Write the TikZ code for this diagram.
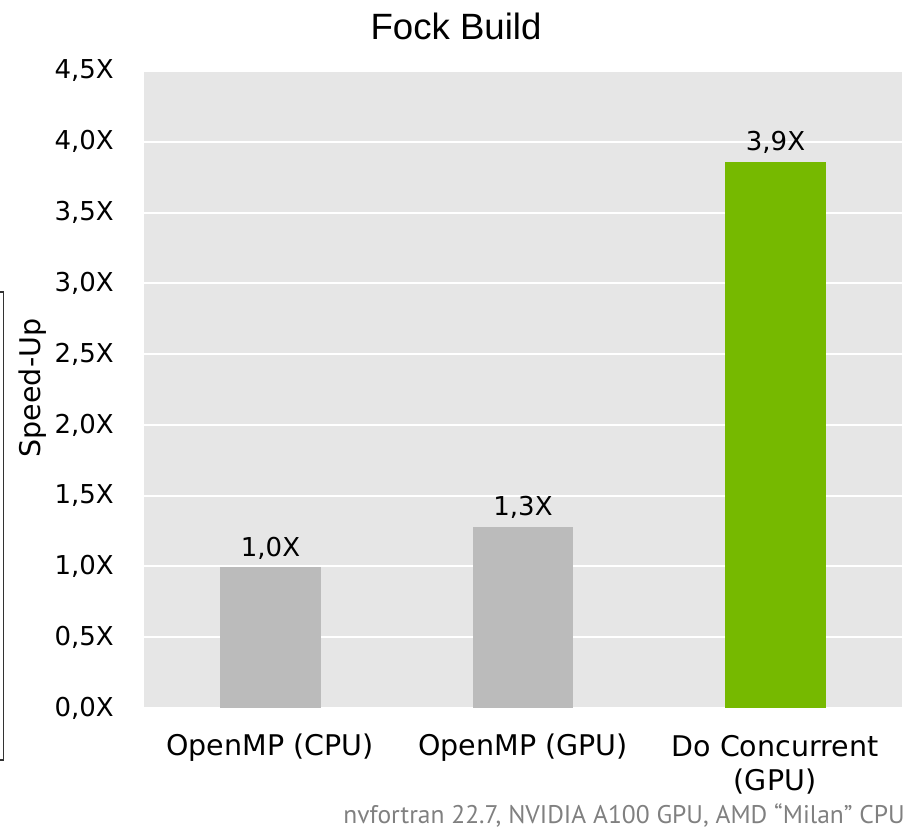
\documentclass[tikz,border=0pt]{standalone}
\usepackage{fontspec}
\setmainfont{DejaVu Sans}
\newfontfamily\titlefont{Liberation Sans}
\newfontfamily\notefont{PT Sans}
\definecolor{plotbg}{HTML}{E6E6E6}
\definecolor{bargrey}{HTML}{BBBBBB}
\definecolor{nvgreen}{HTML}{76B900}
\definecolor{notegrey}{HTML}{808080}
\tikzset{
  tick/.style={anchor=east, inner sep=0pt, font=\fontsize{26}{30}\selectfont},
  vallab/.style={anchor=center, inner sep=0pt, font=\fontsize{26}{30}\selectfont},
  catlab/.style={anchor=center, inner sep=0pt, align=center, font=\fontsize{28.5}{34}\selectfont},
  grid line/.style={draw=white, line width=2pt},
}
\begin{document}
\begin{tikzpicture}[x=1pt, y=-1pt]
\useasboundingbox (0,0) rectangle (910,832);
% plot area
\fill[plotbg] (144,71) rectangle (902,708);
\foreach \k in {0,...,9} {
  \draw[grid line] (144,{708-\k*70.78}) -- (902,{708-\k*70.78});
}
% tick labels
\foreach \k/\t in {0/{0,0X},1/{0,5X},2/{1,0X},3/{1,5X},4/{2,0X},5/{2,5X},6/{3,0X},7/{3,5X},8/{4,0X},9/{4,5X}} {
  \node[tick] (tick\k) at (114,{708-\k*70.78}) {\t};
}
% bars
\fill[bargrey] (220,567) rectangle (321,708);
\fill[bargrey] (473,527) rectangle (573,708);
\fill[nvgreen] (725,162) rectangle (826,708);
% value labels
\node[vallab] (v1) at (270.5,548) {1,0X};
\node[vallab] (v2) at (523,507) {1,3X};
\node[vallab] (v3) at (775.5,142) {3,9X};
% category labels
\node[catlab] (c1) at (270,748) {OpenMP (CPU)};
\node[catlab] (c2) at (523,748) {OpenMP (GPU)};
\node[catlab] (c3) at (775,765) {Do Concurrent\\(GPU)};
% axis title
\node[rotate=90, inner sep=0pt, font=\fontsize{28.5}{32}\selectfont] (ytitle) at (33,388) {Speed-Up};
% chart title
\node[inner sep=0pt, font=\titlefont\fontsize{36.6}{40}\selectfont] (title) at (456,26) {Fock Build};
% footnote
\node[anchor=east, inner sep=0pt, text=notegrey, font=\notefont\fontsize{25.5}{28}\selectfont] (note) at (905,815) {nvfortran 22.7, NVIDIA A100 GPU, AMD “Milan” CPU};
% left border fragment
\draw[black!80, line width=1.3pt] (0,292) -- (3.5,292) -- (3.5,760) -- (0,760);
\end{tikzpicture}
\end{document}
